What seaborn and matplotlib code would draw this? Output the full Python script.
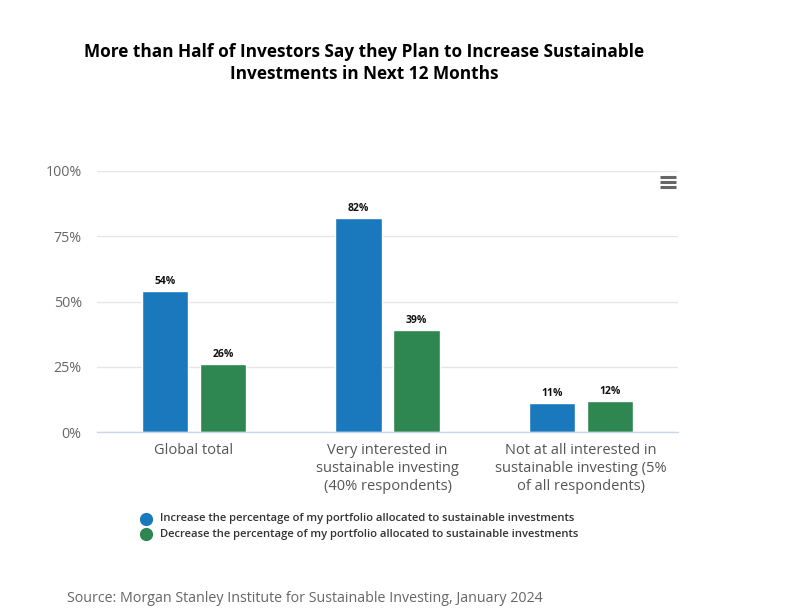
import matplotlib
matplotlib.use("Agg")
import matplotlib.pyplot as plt
from matplotlib.lines import Line2D
import seaborn as sns
import pandas as pd

categories = ["Global total",
              "Very interested in\nsustainable investing\n(40% respondents)",
              "Not at all interested in\nsustainable investing (5%\nof all respondents)"]
series_names = ["Increase the percentage of my portfolio allocated to sustainable investments",
                "Decrease the percentage of my portfolio allocated to sustainable investments"]
increase = [54, 82, 11]
decrease = [26, 39, 12]
yticks = [0, 25, 50, 75, 100]
ytick_labels = ["0%", "25%", "50%", "75%", "100%"]
colors = ["#1a78bd", "#2e8650"]

df = pd.DataFrame({
    "category": categories * 2,
    "series": [series_names[0]] * 3 + [series_names[1]] * 3,
    "value": increase + decrease,
})

sns.set_theme(style="white")
plt.rcParams["font.family"] = ["Open Sans", "DejaVu Sans"]

fig = plt.figure(figsize=(8.06, 6.10), dpi=100)
ax = fig.add_axes([97 / 806, 1 - 432 / 610, (678 - 97) / 806, (432 - 171) / 610])

sns.barplot(data=df, x="category", y="value", hue="series", order=categories,
            hue_order=series_names, palette=colors, width=0.6, gap=0.2,
            saturation=1, ax=ax, legend=False, errorbar=None)

ax.set_ylim(0, 100)
ax.set_xlim(-0.5, 2.5)
ax.set_yticks(yticks)
ax.set_yticklabels(ytick_labels, color="#666666", fontsize=10.3)
ax.tick_params(axis="y", length=0, pad=11)
ax.tick_params(axis="x", length=0, pad=8, labelcolor="#555555", labelsize=10.5)
for lbl in ax.get_xticklabels():
    lbl.set_linespacing(1.28)
ax.set_xlabel("")
ax.set_ylabel("")
ax.yaxis.grid(True, color="#e6e6e6", linewidth=1)
ax.set_axisbelow(True)
for s in ["top", "right", "left"]:
    ax.spines[s].set_visible(False)
ax.spines["bottom"].set_color("#ccd6eb")
ax.spines["bottom"].set_linewidth(1)

for cont in ax.containers:
    for bar in cont:
        h = bar.get_height()
        ax.annotate(f"{h:.0f}%", (bar.get_x() + bar.get_width() / 2, h),
                    xytext=(0, 3), textcoords="offset points",
                    ha="center", va="bottom", fontsize=7.5, fontweight="bold",
                    color="#111111")

fig.text(364 / 806, 1 - 63 / 610, "More than Half of Investors Say they Plan to Increase Sustainable\nInvestments in Next 12 Months",
         ha="center", va="center", fontsize=12.4, fontweight="bold", color="#000000",
         linespacing=1.25)

# legend
for i, name in enumerate(series_names):
    y = 1 - (519 + 15 * i) / 610
    fig.add_artist(Line2D([146 / 806], [y], marker="o", markersize=8.5,
                          color=colors[i], linestyle="none"))
    fig.text(160 / 806, y, name, ha="left", va="center", fontsize=8.1,
             fontweight="semibold", color="#333333")

fig.text(67 / 806, 1 - 598 / 610, "Source: Morgan Stanley Institute for Sustainable Investing, January 2024",
         ha="left", va="center", fontsize=10.3, color="#666666")

# menu icon
for k in range(3):
    y = 1 - (177 + 5 * k) / 610
    fig.add_artist(Line2D([660 / 806, 676 / 806], [y, y], color="#666666", linewidth=2.2,
                          solid_capstyle="butt"))

fig.savefig("out.png", dpi=100)
